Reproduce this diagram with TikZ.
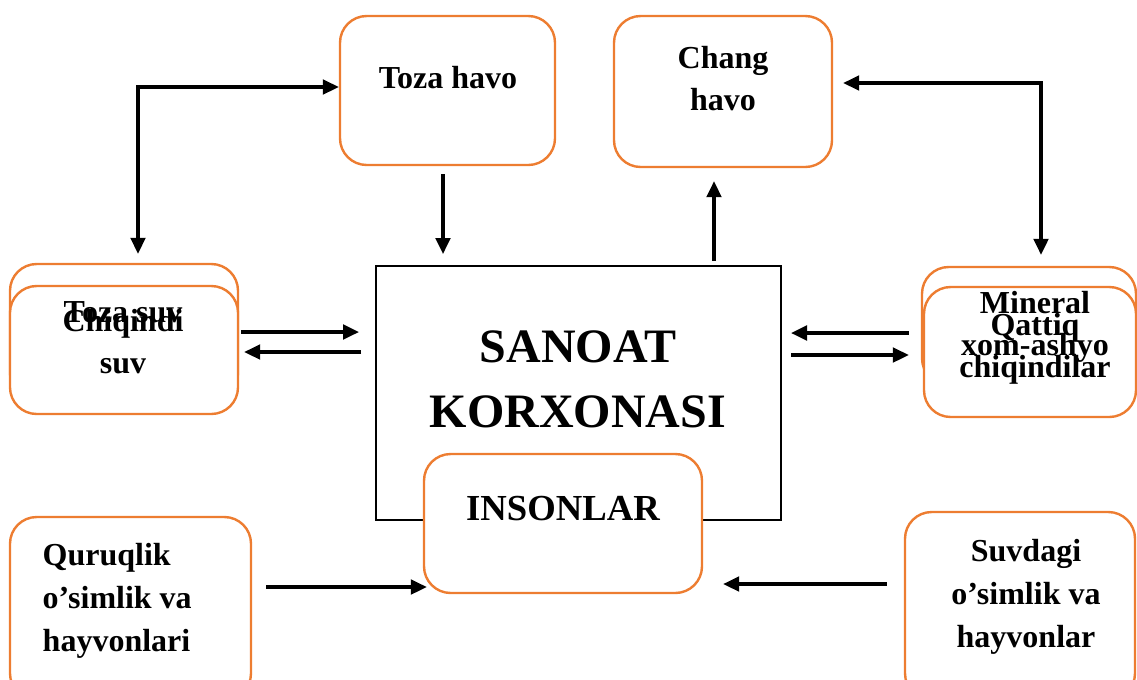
\documentclass[tikz,border=0pt]{standalone}
\usepackage{fontspec}
\setmainfont{Liberation Serif}
\usetikzlibrary{arrows.meta,calc}
\definecolor{boxorange}{RGB}{237,125,49}

\begin{document}
\begin{tikzpicture}[x=0.75pt,y=-0.75pt,
    rbox/.style={draw=boxorange, line width=1.8pt, fill=white, rounded corners=20pt},
    lbl/.style={font=\fontsize{24}{31.5}\selectfont\bfseries, align=center},
    arr/.style={line width=2.4pt, -{Triangle[length=12pt,width=11pt]}},
    dblarr/.style={line width=2.4pt, {Triangle[length=12pt,width=11pt]}-{Triangle[length=12pt,width=11pt]}}]
    \useasboundingbox (0,0) rectangle (1137,679);

    % Air boxes on top
    \node[rbox, minimum width=215*0.75pt, minimum height=149*0.75pt] (tozahavo) at (447.5,90.5) {};
    \node[rbox, minimum width=218*0.75pt, minimum height=151*0.75pt] (changhavo) at (723,91.5) {};

    % Water boxes (one lies over the other)
    \node[rbox, minimum width=228*0.75pt, minimum height=136*0.75pt] (tozasuv) at (124,332) {};
    \node[rbox, minimum width=228*0.75pt, minimum height=128*0.75pt] (chiqindi) at (124,350) {};

    % Solid matter boxes (one lies over the other)
    \node[rbox, minimum width=214*0.75pt, minimum height=118*0.75pt] (mineral) at (1029,326) {};
    \node[rbox, minimum width=212*0.75pt, minimum height=130*0.75pt] (qattiq) at (1030,352) {};

    % Central enterprise
    \node[draw, line width=1.5pt, minimum width=405*0.75pt, minimum height=254*0.75pt] (sanoat) at (578.5,393) {};
    \node[rbox, minimum width=278*0.75pt, minimum height=139*0.75pt] (insonlar) at (563,523.5) {};

    % Living things at the bottom
    \node[rbox, minimum width=241*0.75pt, minimum height=183*0.75pt] (quruqlik) at (130.5,608.5) {};
    \node[rbox, minimum width=230*0.75pt, minimum height=188*0.75pt] (suvdagi) at (1020,606) {};

    % Texts
    \node[lbl] (tozahavotxt) at (448,78) {Toza havo};
    \node[lbl] (changhavotxt) at (723,79) {Chang\\havo};
    \node[lbl] (tozasuvtxt) at (123,312) {Toza suv};
    \node[lbl] (chiqinditxt) at (123,342) {Chiqindi\\suv};
    \node[lbl] (mineraltxt) at (1035,327) {Mineral\\xom-ashyo};
    \node[lbl] (qattiqtxt) at (1035,349) {Qattiq\\chiqindilar};
    \node[align=center, font=\fontsize{36}{48.75}\selectfont\bfseries] (sanoattxt) at (578,379) {SANOAT\\KORXONASI};
    \node[lbl, font=\fontsize{27.5}{33}\selectfont\bfseries] (insonlartxt) at (563,509) {INSONLAR};
    \node[lbl, align=left, anchor=west, font=\fontsize{24}{32.5}\selectfont\bfseries] (quruqliktxt) at (38,601) {Quruqlik\\o’simlik va\\hayvonlari};
    \node[lbl, font=\fontsize{24}{32.5}\selectfont\bfseries] (suvdagitxt) at (1026,597) {Suvdagi\\o’simlik va\\hayvonlar};

    % Connectors
    \draw[dblarr] ($(tozasuv.north)+(14,-9)$) |- ($(tozahavo.west)+(0,-3.5)$);
    \draw[dblarr] ($(changhavo.east)+(10,-8.5)$) -| ($(mineral.north)+(12,-11)$);
    \draw[arr] ($(tozahavo.south)+(-4.5,8)$) -- ($(tozahavo.south |- sanoat.north)+(-4.5,-11)$);
    \draw[arr] ($(changhavo.south |- sanoat.north)+(-9,-4)$) -- ($(changhavo.south)+(-9,13)$);
    \draw[arr] ($(chiqindi.east)+(2,-18)$) -- ($(chiqindi.east -| sanoat.west)+(-16,-18)$);
    \draw[arr] ($(chiqindi.east -| sanoat.west)+(-14,2)$) -- ($(chiqindi.east)+(5,2)$);
    \draw[arr] ($(qattiq.west)+(-14,-19)$) -- ($(qattiq.west -| sanoat.east)+(9,-19)$);
    \draw[arr] ($(qattiq.west -| sanoat.east)+(9,3)$) -- ($(qattiq.west)+(-14,3)$);
    \draw[arr] ($(quruqlik.east)+(14,-21.5)$) -- ($(quruqlik.east -| insonlar.west)+(4,-21.5)$);
    \draw[arr] ($(suvdagi.west)+(-17,-22)$) -- ($(suvdagi.west -| insonlar.east)+(20,-22)$);
\end{tikzpicture}
\end{document}
